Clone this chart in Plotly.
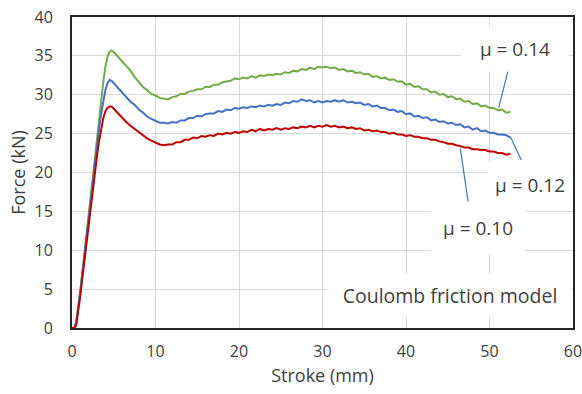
import plotly.graph_objects as go

# Punch stroke positions (mm): fine steps through the initial ramp, then 0.5 mm
stroke = [0, 0.25, 0.5, 0.75, 1, 1.25, 1.5, 1.75, 2, 2.25, 2.5, 2.75, 3, 3.25, 3.5,
          3.75, 4, 4.25, 4.5, 4.75, 5, 5.25, 5.5, 5.75, 6,
          6.5, 7, 7.5, 8, 8.5, 9, 9.5, 10, 10.5, 11,
          11.5, 12, 12.5, 13, 13.5, 14, 14.5, 15, 15.5, 16,
          16.5, 17, 17.5, 18, 18.5, 19, 19.5, 20, 20.5, 21,
          21.5, 22, 22.5, 23, 23.5, 24, 24.5, 25, 25.5, 26,
          26.5, 27, 27.5, 28, 28.5, 29, 29.5, 30, 30.5, 31,
          31.5, 32, 32.5, 33, 33.5, 34, 34.5, 35, 35.5, 36,
          36.5, 37, 37.5, 38, 38.5, 39, 39.5, 40, 40.5, 41,
          41.5, 42, 42.5, 43, 43.5, 44, 44.5, 45, 45.5, 46,
          46.5, 47, 47.5, 48, 48.5, 49, 49.5, 50, 50.5, 51,
          51.5, 52, 52.5]

# Punch force (kN) for each friction coefficient
force_mu014 = [0, 0, 0.8, 2.6, 4.9, 7.3, 9.8, 12.3, 14.8, 17.2, 19.6, 22.0, 24.5, 27.0, 29.4,
               31.7, 33.6, 34.9, 35.5, 35.7, 35.5, 35.2, 34.9, 34.5, 34.2,
               33.6, 33.1, 32.3, 31.7, 31.0, 30.6, 30.1, 29.9, 29.6, 29.5,
               29.4, 29.7, 29.8, 30.1, 30.1, 30.4, 30.5, 30.7, 30.7, 31.0,
               31.0, 31.3, 31.3, 31.6, 31.7, 31.8, 32.1, 32.0, 32.2, 32.1,
               32.4, 32.2, 32.5, 32.4, 32.6, 32.5, 32.7, 32.6, 32.9, 32.8,
               33.1, 33.0, 33.3, 33.2, 33.5, 33.3, 33.6, 33.5, 33.6, 33.4,
               33.5, 33.2, 33.3, 33.0, 33.1, 32.8, 32.9, 32.6, 32.7, 32.3,
               32.4, 32.1, 32.2, 31.9, 32.0, 31.7, 31.7, 31.3, 31.4, 31.0,
               31.1, 30.7, 30.7, 30.3, 30.4, 30.0, 30.1, 29.7, 29.8, 29.4,
               29.5, 29.1, 29.2, 28.8, 28.9, 28.5, 28.6, 28.3, 28.3, 28.0,
               28.1, 27.7, 27.8]

force_mu012 = [0, 0, 0.7, 2.5, 4.7, 7.1, 9.5, 11.9, 14.3, 16.6, 19.0, 21.3, 23.6, 25.7, 27.6,
               29.3, 30.6, 31.5, 31.9, 31.8, 31.5, 31.1, 30.8, 30.5, 30.2,
               29.7, 29.1, 28.7, 28.1, 27.7, 27.2, 26.9, 26.7, 26.4, 26.4,
               26.3, 26.5, 26.4, 26.7, 26.7, 27.0, 27.0, 27.3, 27.2, 27.5,
               27.6, 27.6, 27.9, 27.8, 28.1, 28.0, 28.3, 28.2, 28.4, 28.3,
               28.5, 28.4, 28.6, 28.5, 28.7, 28.6, 28.8, 28.7, 29.0, 28.9,
               29.2, 29.1, 29.4, 29.2, 29.3, 29.0, 29.2, 29.0, 29.2, 29.1,
               29.3, 29.1, 29.3, 29.0, 29.1, 28.9, 29.0, 28.7, 28.8, 28.5,
               28.6, 28.3, 28.3, 28.0, 28.1, 27.8, 27.9, 27.5, 27.6, 27.2,
               27.3, 27.0, 27.1, 26.7, 26.8, 26.5, 26.6, 26.3, 26.4, 26.1,
               26.2, 25.8, 25.9, 25.5, 25.7, 25.3, 25.4, 25.1, 25.1, 24.9,
               24.9, 24.8, 24.5]

force_mu010 = [0, 0, 0.3, 2.0, 4.2, 6.5, 8.8, 11.0, 13.3, 15.5, 17.8, 20.0, 22.2, 24.1, 25.8,
               27.0, 27.9, 28.3, 28.5, 28.5, 28.2, 27.9, 27.6, 27.3, 27.0,
               26.5, 26.0, 25.6, 25.1, 24.8, 24.4, 24.1, 23.8, 23.6, 23.5,
               23.6, 23.6, 23.9, 23.9, 24.2, 24.2, 24.5, 24.4, 24.7, 24.6,
               24.8, 24.7, 25.0, 24.9, 25.1, 25.0, 25.2, 25.1, 25.3, 25.2,
               25.5, 25.3, 25.6, 25.4, 25.6, 25.5, 25.7, 25.5, 25.7, 25.6,
               25.8, 25.7, 25.9, 25.8, 26.0, 25.8, 26.0, 25.9, 26.1, 25.9,
               26.0, 25.8, 25.9, 25.7, 25.8, 25.6, 25.7, 25.4, 25.5, 25.3,
               25.4, 25.2, 25.2, 25.0, 25.1, 24.9, 24.9, 24.7, 24.8, 24.6,
               24.6, 24.4, 24.4, 24.2, 24.2, 24.0, 23.9, 23.7, 23.7, 23.5,
               23.4, 23.2, 23.2, 23.0, 23.0, 22.9, 22.9, 22.7, 22.7, 22.5,
               22.5, 22.3, 22.4]

series_labels = ["μ = 0.14", "μ = 0.12", "μ = 0.10"]
series_colors = ["#70AD47", "#4472C4", "#C00000"]

x_ticks = [0, 10, 20, 30, 40, 50, 60]
y_ticks = [0, 5, 10, 15, 20, 25, 30, 35, 40]

FONT = "Open Sans"
TEXT = "#404040"

fig = go.Figure()
for name, ys, color in zip(series_labels, [force_mu014, force_mu012, force_mu010], series_colors):
    fig.add_trace(go.Scatter(x=stroke, y=ys, mode="lines", name=name,
                             line=dict(color=color, width=2), showlegend=False))

# Data labels with white boxes and thin leader lines to their curves
labels = [
    # text, text centre (x, y), box w, box h, leader start, leader end
    ("μ = 0.14", (53.05, 35.9), 104, 42, (51.1, 28.3), (52.2, 33.0)),
    ("μ = 0.12", (54.85, 18.4), 82, 44, (52.5, 24.6), (53.8, 21.6)),
    ("μ = 0.10", (48.6, 12.85), 92, 50, (46.5, 23.1), (47.5, 15.8)),
]
for text, (tx, ty), w, h, p0, p1 in labels:
    fig.add_annotation(x=tx, y=ty, xref="x", yref="y", text=text, showarrow=False,
                       width=w, height=h, bgcolor="white",
                       font=dict(family=FONT, size=19, color=TEXT))
    fig.add_shape(type="line", xref="x", yref="y", x0=p0[0], y0=p0[1], x1=p1[0], y1=p1[1],
                  line=dict(color="#4472C4", width=1.2))

fig.add_annotation(x=45.3, y=4.25, xref="x", yref="y", text="Coulomb friction model",
                   showarrow=False, width=240, height=40, bgcolor="white",
                   font=dict(family=FONT, size=19.5, color=TEXT))

axis_common = dict(showline=True, linecolor="#262626", linewidth=2, mirror=True,
                   showgrid=True, gridcolor="#D9D9D9", gridwidth=1, zeroline=False,
                   ticks="", automargin=False, ticklabeloverflow="allow",
                   tickfont=dict(family=FONT, size=16, color=TEXT))

fig.update_xaxes(range=[0, 60], tickvals=x_ticks, ticklabelstandoff=8,
                 title=dict(text="Stroke (mm)", font=dict(family=FONT, size=18, color=TEXT),
                            standoff=8),
                 **axis_common)
fig.update_yaxes(range=[0, 40], tickvals=y_ticks, ticklabelstandoff=14,
                 title=dict(text="Force (kN)", font=dict(family=FONT, size=18, color=TEXT),
                            standoff=4),
                 **axis_common)

fig.update_layout(width=582, height=394,
                  margin=dict(l=72, r=9, t=17, b=66),
                  paper_bgcolor="white", plot_bgcolor="white")

fig.write_html("out.html")
